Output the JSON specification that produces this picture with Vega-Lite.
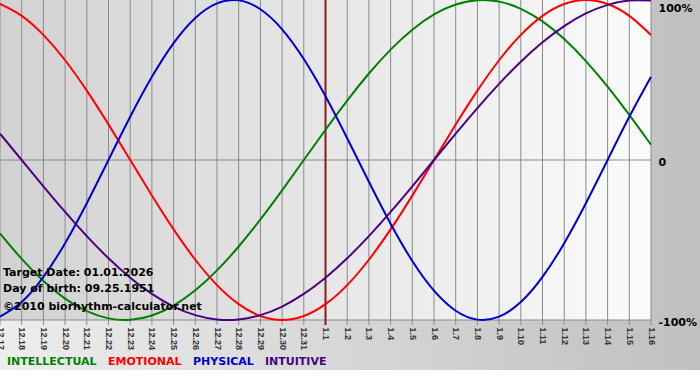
{
  "$schema": "https://vega.github.io/schema/vega-lite/v6.json",
  "width": 651,
  "height": 320,
  "autosize": {"type": "none"},
  "padding": {"left": 0, "top": 0, "right": 49, "bottom": 60},
  "background": "#ffffff",
  "config": {"view": {"stroke": null}, "font": "DejaVu Sans"},
  "title": {
    "text": ["Target Date: 01.01.2026", "Day of birth: 09.25.1951"],
    "subtitle": "©2010 biorhythm-calculator.net",
    "orient": "top",
    "anchor": "start",
    "frame": "group",
    "offset": -316,
    "dx": 3,
    "font": "DejaVu Sans",
    "fontSize": 11,
    "fontWeight": "bold",
    "color": "#000000",
    "lineHeight": 15.5,
    "subtitleFont": "DejaVu Sans",
    "subtitleFontSize": 11,
    "subtitleFontWeight": "bold",
    "subtitleColor": "#000000",
    "subtitlePadding": 7
  },
  "data": {
    "values": [
      {"date": "2025-12-17", "INTELLECTUAL": -0.4582, "EMOTIONAL": 0.9749, "PHYSICAL": -0.9791, "INTUITIVE": 0.1646},
      {"date": "2025-12-18", "INTELLECTUAL": -0.6182, "EMOTIONAL": 0.9010, "PHYSICAL": -0.8879, "INTUITIVE": 0},
      {"date": "2025-12-19", "INTELLECTUAL": -0.7557, "EMOTIONAL": 0.7818, "PHYSICAL": -0.7308, "INTUITIVE": -0.1646},
      {"date": "2025-12-20", "INTELLECTUAL": -0.8660, "EMOTIONAL": 0.6235, "PHYSICAL": -0.5196, "INTUITIVE": -0.3247},
      {"date": "2025-12-21", "INTELLECTUAL": -0.9450, "EMOTIONAL": 0.4339, "PHYSICAL": -0.2698, "INTUITIVE": -0.4759},
      {"date": "2025-12-22", "INTELLECTUAL": -0.9898, "EMOTIONAL": 0.2225, "PHYSICAL": 0, "INTUITIVE": -0.6142},
      {"date": "2025-12-23", "INTELLECTUAL": -0.9989, "EMOTIONAL": 0, "PHYSICAL": 0.2698, "INTUITIVE": -0.7357},
      {"date": "2025-12-24", "INTELLECTUAL": -0.9718, "EMOTIONAL": -0.2225, "PHYSICAL": 0.5196, "INTUITIVE": -0.8372},
      {"date": "2025-12-25", "INTELLECTUAL": -0.9096, "EMOTIONAL": -0.4339, "PHYSICAL": 0.7308, "INTUITIVE": -0.9158},
      {"date": "2025-12-26", "INTELLECTUAL": -0.8146, "EMOTIONAL": -0.6235, "PHYSICAL": 0.8879, "INTUITIVE": -0.9694},
      {"date": "2025-12-27", "INTELLECTUAL": -0.6901, "EMOTIONAL": -0.7818, "PHYSICAL": 0.9791, "INTUITIVE": -0.9966},
      {"date": "2025-12-28", "INTELLECTUAL": -0.5406, "EMOTIONAL": -0.9010, "PHYSICAL": 0.9977, "INTUITIVE": -0.9966},
      {"date": "2025-12-29", "INTELLECTUAL": -0.3717, "EMOTIONAL": -0.9749, "PHYSICAL": 0.9423, "INTUITIVE": -0.9694},
      {"date": "2025-12-30", "INTELLECTUAL": -0.1893, "EMOTIONAL": -1, "PHYSICAL": 0.8170, "INTUITIVE": -0.9158},
      {"date": "2025-12-31", "INTELLECTUAL": 0, "EMOTIONAL": -0.9749, "PHYSICAL": 0.6311, "INTUITIVE": -0.8372},
      {"date": "2026-01-01", "INTELLECTUAL": 0.1893, "EMOTIONAL": -0.9010, "PHYSICAL": 0.3984, "INTUITIVE": -0.7357},
      {"date": "2026-01-02", "INTELLECTUAL": 0.3717, "EMOTIONAL": -0.7818, "PHYSICAL": 0.1362, "INTUITIVE": -0.6142},
      {"date": "2026-01-03", "INTELLECTUAL": 0.5406, "EMOTIONAL": -0.6235, "PHYSICAL": -0.1362, "INTUITIVE": -0.4759},
      {"date": "2026-01-04", "INTELLECTUAL": 0.6901, "EMOTIONAL": -0.4339, "PHYSICAL": -0.3984, "INTUITIVE": -0.3247},
      {"date": "2026-01-05", "INTELLECTUAL": 0.8146, "EMOTIONAL": -0.2225, "PHYSICAL": -0.6311, "INTUITIVE": -0.1646},
      {"date": "2026-01-06", "INTELLECTUAL": 0.9096, "EMOTIONAL": 0, "PHYSICAL": -0.8170, "INTUITIVE": 0},
      {"date": "2026-01-07", "INTELLECTUAL": 0.9718, "EMOTIONAL": 0.2225, "PHYSICAL": -0.9423, "INTUITIVE": 0.1646},
      {"date": "2026-01-08", "INTELLECTUAL": 0.9989, "EMOTIONAL": 0.4339, "PHYSICAL": -0.9977, "INTUITIVE": 0.3247},
      {"date": "2026-01-09", "INTELLECTUAL": 0.9898, "EMOTIONAL": 0.6235, "PHYSICAL": -0.9791, "INTUITIVE": 0.4759},
      {"date": "2026-01-10", "INTELLECTUAL": 0.9450, "EMOTIONAL": 0.7818, "PHYSICAL": -0.8879, "INTUITIVE": 0.6142},
      {"date": "2026-01-11", "INTELLECTUAL": 0.8660, "EMOTIONAL": 0.9010, "PHYSICAL": -0.7308, "INTUITIVE": 0.7357},
      {"date": "2026-01-12", "INTELLECTUAL": 0.7557, "EMOTIONAL": 0.9749, "PHYSICAL": -0.5196, "INTUITIVE": 0.8372},
      {"date": "2026-01-13", "INTELLECTUAL": 0.6182, "EMOTIONAL": 1, "PHYSICAL": -0.2698, "INTUITIVE": 0.9158},
      {"date": "2026-01-14", "INTELLECTUAL": 0.4582, "EMOTIONAL": 0.9749, "PHYSICAL": 0, "INTUITIVE": 0.9694},
      {"date": "2026-01-15", "INTELLECTUAL": 0.2817, "EMOTIONAL": 0.9010, "PHYSICAL": 0.2698, "INTUITIVE": 0.9966},
      {"date": "2026-01-16", "INTELLECTUAL": 0.0951, "EMOTIONAL": 0.7818, "PHYSICAL": 0.5196, "INTUITIVE": 0.9966}
    ]
  },
  "layer": [
    {
      "data": {"values": [{}]},
      "mark": {
        "type": "rect",
        "color": {"gradient": "linear", "x1": 0, "y1": 0, "x2": 1, "y2": 0,
          "stops": [{"offset": 0, "color": "#ededed"}, {"offset": 1, "color": "#bfbfbf"}]}
      },
      "encoding": {
        "x": {"datum": {"year": 2025, "month": 12, "date": 17, "utc": true}, "type": "temporal",
          "scale": {"type": "utc", "nice": false, "domain": [{"year": 2025, "month": 12, "date": 17, "utc": true}, {"year": 2026, "month": 1, "date": 16, "utc": true}]}},
        "x2": {"datum": {"year": 2026, "month": 1, "date": 19, "utc": true}},
        "y": {"datum": 1, "type": "quantitative", "scale": {"domain": [-1, 1], "nice": false, "zero": false}},
        "y2": {"datum": -1.3125}
      }
    },
    {
      "data": {"values": [{}]},
      "mark": {
        "type": "rect",
        "color": {"gradient": "linear", "x1": 0, "y1": 0, "x2": 1, "y2": 0,
          "stops": [{"offset": 0, "color": "#d2d2d2"}, {"offset": 1, "color": "#fbfbfb"}]}
      },
      "encoding": {
        "x": {"datum": {"year": 2025, "month": 12, "date": 17, "utc": true}, "type": "temporal",
          "scale": {"type": "utc", "nice": false, "domain": [{"year": 2025, "month": 12, "date": 17, "utc": true}, {"year": 2026, "month": 1, "date": 16, "utc": true}]}},
        "x2": {"datum": {"year": 2026, "month": 1, "date": 16, "utc": true}},
        "y": {"datum": 1, "type": "quantitative", "scale": {"domain": [-1, 1], "nice": false, "zero": false}},
        "y2": {"datum": -1}
      }
    },
    {
      "mark": {"type": "rule", "color": "#8a8a8a", "strokeWidth": 1},
      "encoding": {
        "x": {"field": "date", "type": "temporal",
          "scale": {"type": "utc", "nice": false, "domain": [{"year": 2025, "month": 12, "date": 17, "utc": true}, {"year": 2026, "month": 1, "date": 16, "utc": true}]}},
        "y": {"datum": 1, "type": "quantitative", "scale": {"domain": [-1, 1], "nice": false, "zero": false}},
        "y2": {"datum": -1.03125}
      }
    },
    {
      "data": {"values": [{}]},
      "mark": {"type": "rule", "color": "#8a8a8a", "strokeWidth": 1},
      "encoding": {
        "y": {"datum": 0, "type": "quantitative", "scale": {"domain": [-1, 1], "nice": false, "zero": false}}
      }
    },
    {
      "data": {"values": [{}]},
      "mark": {"type": "rule", "color": "#8a8a8a", "strokeWidth": 1},
      "encoding": {
        "y": {"datum": -1, "type": "quantitative", "scale": {"domain": [-1, 1], "nice": false, "zero": false}}
      }
    },
    {
      "data": {"values": [{}]},
      "mark": {"type": "rule", "color": "#8b1c1c", "strokeWidth": 2},
      "encoding": {
        "x": {"datum": {"year": 2026, "month": 1, "date": 1, "utc": true}, "type": "temporal",
          "scale": {"type": "utc", "nice": false, "domain": [{"year": 2025, "month": 12, "date": 17, "utc": true}, {"year": 2026, "month": 1, "date": 16, "utc": true}]}},
        "y": {"datum": 1, "type": "quantitative", "scale": {"domain": [-1, 1], "nice": false, "zero": false}},
        "y2": {"datum": -1.03125}
      }
    },
    {
      "transform": [{"fold": ["INTELLECTUAL", "EMOTIONAL", "PHYSICAL", "INTUITIVE"], "as": ["series", "value"]}],
      "mark": {"type": "line", "strokeWidth": 2, "interpolate": "natural"},
      "encoding": {
        "x": {"field": "date", "type": "temporal",
          "scale": {"type": "utc", "nice": false, "domain": [{"year": 2025, "month": 12, "date": 17, "utc": true}, {"year": 2026, "month": 1, "date": 16, "utc": true}]},
          "axis": {"title": null, "format": "%-m.%-d", "tickCount": {"interval": "day", "step": 1}, "labelAngle": 90, "labelAlign": "left", "labelBaseline": "middle", "labelPadding": 7, "ticks": false, "domain": false, "grid": false, "labelFont": "Liberation Sans", "labelFontSize": 9, "labelFontWeight": "bold", "labelColor": "#333333", "labelOverlap": false, "labelFlush": false, "labelBound": false, "zindex": 1}},
        "y": {"field": "value", "type": "quantitative",
          "scale": {"domain": [-1, 1], "nice": false, "zero": false},
          "axis": {"title": null, "orient": "right", "values": [-1, 0, 1], "labelExpr": "datum.value === 1 ? '100%' : datum.value === -1 ? '-100%' : '0'", "ticks": false, "domain": false, "grid": false, "labelPadding": 7, "labelFont": "DejaVu Sans", "labelFontSize": 11, "labelFontWeight": "bold", "labelColor": "#000000", "labelAlign": "left",
            "labelBaseline": {"condition": {"test": "datum.value === 1", "value": "top"}, "value": "middle"},
            "labelOffset": 2, "zindex": 1}},
        "color": {"field": "series", "type": "nominal",
          "scale": {"domain": ["INTELLECTUAL", "EMOTIONAL", "PHYSICAL", "INTUITIVE"], "range": ["#008000", "#ff0000", "#0000cd", "#4b0082"]},
          "legend": {"title": null, "orient": "none", "legendX": -4, "legendY": 356, "direction": "horizontal", "symbolSize": 0, "symbolStrokeWidth": 0, "symbolOpacity": 0, "labelOffset": 0, "columnPadding": 0, "padding": 0, "labelFont": "DejaVu Sans", "labelFontSize": 11, "labelFontWeight": "bold", "labelLimit": 0,
            "encode": {"labels": {"update": {"fill": {"signal": "scale('color', datum.value)"}}}}}}
      }
    }
  ]
}
